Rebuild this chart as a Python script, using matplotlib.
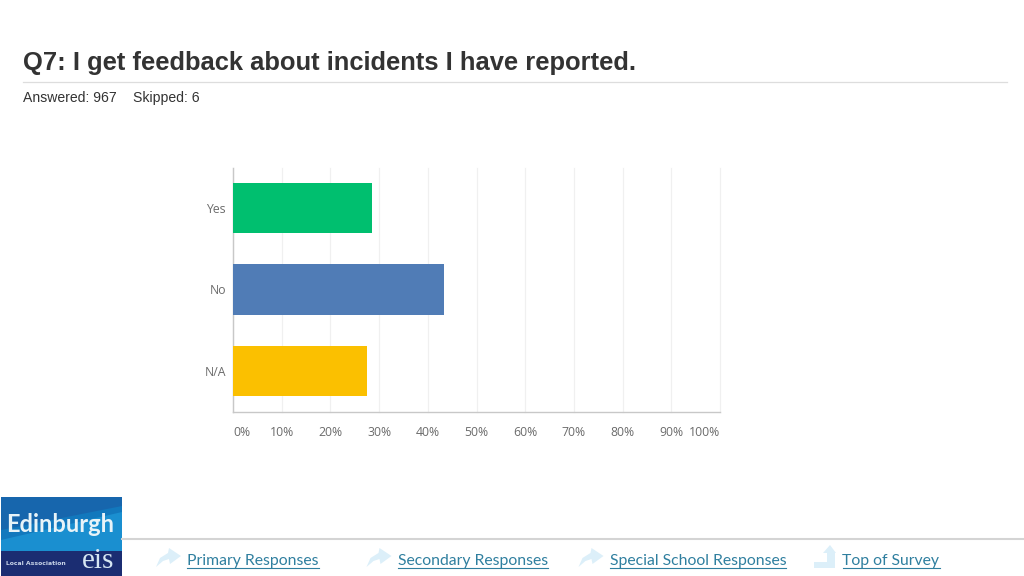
import matplotlib.pyplot as plt
from matplotlib.patches import Polygon, Rectangle

categories = ["Yes", "No", "N/A"]
values = [28.5, 43.4, 27.6]
bar_colors = ["#00bf6f", "#507cb6", "#fbc000"]
tick_values = [0, 10, 20, 30, 40, 50, 60, 70, 80, 90, 100]
tick_labels = ["0%", "10%", "20%", "30%", "40%", "50%", "60%", "70%", "80%", "90%", "100%"]

title = "Q7: I get feedback about incidents I have reported."
answered = "Answered: 967"
skipped = "Skipped: 6"
footer_links = ["Primary Responses", "Secondary Responses", "Special School Responses", "Top of Survey"]
footer_x = [187, 397.5, 609.5, 842.5]

W, H = 1024, 576
LINK = "#2f7f9f"
ICON = "#dceff9"

fig = plt.figure(figsize=(W / 100, H / 100), dpi=100, facecolor="white")

# page furniture, in pixel coordinates
page = fig.add_axes([0, 0, 1, 1])
page.set_xlim(0, W)
page.set_ylim(H, 0)
page.axis("off")

page.text(23, 63, title, family="Liberation Sans", fontsize=18.36, fontweight="bold", color="#333333", va="center")
page.plot([23, 1007], [81.5, 81.5], color="#dddddd", lw=0.9)
page.text(23, 101.8, answered, family="Liberation Sans", fontsize=10.1, color="#333333", va="baseline")
page.text(133, 102.2, skipped, family="Liberation Sans", fontsize=10.1, color="#333333", va="baseline")

# footer
page.plot([122, 1024], [539, 539], color="#d4d4d4", lw=1.5)
for label, x in zip(footer_links, footer_x):
    t = page.text(x, 560.5, label, family="Lato", fontsize=11.3, color=LINK, va="center")
    fig.canvas.draw()
    box = t.get_window_extent()
    page.plot([x, x + box.width], [567.5, 567.5], color=LINK, lw=0.8)

for x in footer_x[:3]:
    x0 = x - 31
    page.add_patch(Polygon([(x0, 567), (x0 + 4, 558), (x0 + 12, 553), (x0 + 13, 548), (x0 + 25, 556),
                            (x0 + 14, 564), (x0 + 13, 559), (x0 + 7, 561)], fc=ICON, ec="none"))
page.add_patch(Polygon([(814, 568), (814, 562), (827, 562), (827, 553), (823, 553), (830, 545), (836, 553),
                        (835, 553), (835, 568)], fc=ICON, ec="none"))

# logo
page.add_patch(Rectangle((1, 497), 121, 79, fc="#1278bd", ec="none"))
page.add_patch(Polygon([(1, 497), (122, 497), (122, 506), (1, 530)], fc="#1766ad", ec="none"))
page.add_patch(Polygon([(1, 540), (122, 512), (122, 551), (1, 551)], fc="#1a8fd0", ec="none"))
page.add_patch(Rectangle((1, 551), 121, 25, fc="#1b2d72", ec="none"))
page.text(6, 525, "Edinburgh", family="Lato", fontsize=17, fontweight="bold", color="#e8f3f8", va="center")
page.text(6, 563.5, "Local Association", family="DejaVu Sans", fontsize=4.4, fontweight="bold", color="#c8d4e8", va="center")
page.text(82, 561.5, "eis", family="Liberation Serif", fontsize=21, color="#d6e6f2", va="center")

# chart
ax = fig.add_axes([233 / W, 1 - 411.5 / H, 487 / W, 244 / H])
ax.barh(range(len(categories)), values, height=0.62, color=bar_colors, zorder=3)
ax.set_xlim(0, 100)
ax.set_ylim(2.5, -0.5)
ax.set_xticks(tick_values)
ax.set_xticklabels(tick_labels, family="Open Sans", fontsize=8.8, color="#6b6b6b")
ax.set_yticks(range(len(categories)))
ax.set_yticklabels(categories, family="Open Sans", fontsize=8.8, color="#6b6b6b")
ax.tick_params(axis="both", length=0)
ax.tick_params(axis="x", pad=10.5)
ax.tick_params(axis="y", pad=5)
ax.get_xticklabels()[0].set_ha("left")
ax.get_xticklabels()[-1].set_ha("right")
ax.xaxis.grid(True, color="#f0f0f0", lw=0.9, zorder=0)
for line in ax.get_xgridlines():
    line.set_clip_on(False)
ax.set_axisbelow(True)
ax.patch.set_alpha(0)
for side in ("top", "right"):
    ax.spines[side].set_visible(False)
for side in ("left", "bottom"):
    ax.spines[side].set_color("#c8c8c8")
    ax.spines[side].set_linewidth(1)

fig.savefig("out.png", dpi=100)
